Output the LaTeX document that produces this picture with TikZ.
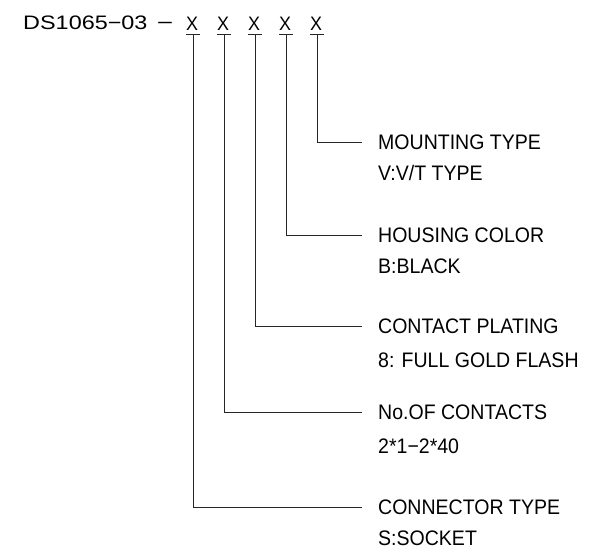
\documentclass[tikz,border=0pt]{standalone}
\usepackage{fontspec}
\setmainfont{Liberation Sans}
\begin{document}
\begin{tikzpicture}[x=1pt,y=-1pt,
  line/.style={line width=0.9pt,black!85},
  head/.style={font=\fontsize{19.5}{19.5}\selectfont,inner sep=0pt,xscale=1.2,transform shape},
  xcode/.style={font=\fontsize{19.5}{19.5}\selectfont,inner sep=0pt,anchor=base,xscale=0.92,transform shape},
  title/.style={font=\fontsize{21}{21}\selectfont,inner sep=0pt,anchor=west,text height=15pt,text depth=0pt,xscale=0.93,transform shape},
  value/.style={font=\fontsize{21}{21}\selectfont,inner sep=0pt,anchor=base west,xscale=0.93,transform shape}]
\useasboundingbox[fill=white] (0,0) rectangle (608,550);
\node[head,anchor=base west] (code) at (23,29) {DS1065−03};
\node[head,anchor=base,xscale=1.2] (dash) at (165,29) {−};
\foreach \i/\x in {1/192,2/223,3/254,4/285,5/316}{
  \node[xcode] (x\i) at (\x,30) {X};
}
\foreach \i/\x in {1/193,2/224,3/255,4/286,5/317}{
  \coordinate (t\i) at (\x,34);
  \draw[line] ([xshift=-7pt]t\i) -- ([xshift=7pt]t\i);
}
\node[title] (l5) at (378,142) {MOUNTING TYPE};
\node[value] (v5) at (378,180) {V:V/T TYPE};
\node[title] (l4) at (378,235) {HOUSING COLOR};
\node[value] (v4) at (378,273) {B:BLACK};
\node[title] (l3) at (378,326) {CONTACT PLATING};
\node[value] (v3) at (378,367) {8: FULL GOLD FLASH};
\node[title] (l2) at (378,412) {No.OF CONTACTS};
\node[value] (v2) at (378,453) {2*1−2*40};
\node[title] (l1) at (378,507) {CONNECTOR TYPE};
\node[value] (v1) at (378,545) {S:SOCKET};
\foreach \i in {1,...,5}{
  \draw[line] (t\i) |- ([xshift=-16pt]l\i.west);
}
\end{tikzpicture}
\end{document}
